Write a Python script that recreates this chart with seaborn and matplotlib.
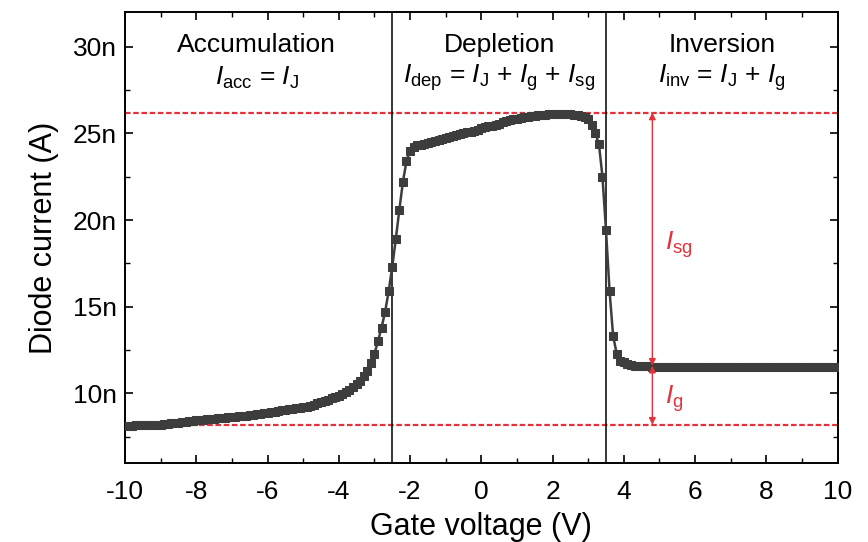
import numpy as np
import pandas as pd
import matplotlib
matplotlib.use('Agg')
import matplotlib.pyplot as plt
import seaborn as sns

# === data: gate sweep -10 V .. 10 V, 0.1 V step ===
gate_voltage = np.round(np.arange(-10.0, 10.05, 0.1), 1)

# diode current in nA
current_acc = [8.15, 8.15, 8.15, 8.16, 8.16, 8.17, 8.17, 8.18, 8.19, 8.20,
               8.21, 8.23, 8.25, 8.27, 8.29, 8.31, 8.34, 8.37, 8.40, 8.43,
               8.45, 8.47, 8.49, 8.51, 8.53, 8.55, 8.57, 8.59, 8.61, 8.63,
               8.65, 8.67, 8.69, 8.71, 8.73, 8.75, 8.78, 8.81, 8.84, 8.87,
               8.90, 8.93, 8.96, 8.99, 9.02, 9.05, 9.08, 9.11, 9.14, 9.17,
               9.20, 9.25, 9.30, 9.36, 9.43, 9.50, 9.57, 9.64, 9.72, 9.80,
               9.88, 9.98, 10.1, 10.22, 10.36, 10.52, 10.72, 10.98, 11.3, 11.75,
               12.3, 13.0, 13.8, 14.7, 15.9, 17.3, 18.9, 20.6, 22.2, 23.4]
current_dep = [24.0, 24.2, 24.3, 24.35, 24.4, 24.45, 24.5, 24.55, 24.6, 24.7,
               24.75, 24.8, 24.85, 24.9, 24.95, 25.0, 25.05, 25.1, 25.15, 25.2,
               25.3, 25.35, 25.4, 25.45, 25.5, 25.55, 25.65, 25.7, 25.75, 25.8,
               25.85, 25.9, 25.93, 25.96, 26.0, 26.02, 26.04, 26.06, 26.08, 26.1,
               26.1, 26.12, 26.13, 26.13, 26.12, 26.1, 26.08, 26.05, 26.0, 25.95,
               25.85, 25.5, 25.0, 24.4, 22.5]
current_inv = [19.4, 15.9, 13.3, 12.3, 11.9, 11.8, 11.7, 11.65, 11.6, 11.6,
               11.58, 11.57, 11.56, 11.55, 11.55, 11.55, 11.55, 11.55, 11.55, 11.55,
               11.55, 11.55, 11.55, 11.55, 11.55, 11.55, 11.55, 11.55, 11.55, 11.55,
               11.55, 11.55, 11.55, 11.55, 11.55, 11.55, 11.55, 11.55, 11.55, 11.55,
               11.55, 11.55, 11.55, 11.55, 11.55, 11.55, 11.55, 11.55, 11.55, 11.55,
               11.55, 11.55, 11.55, 11.55, 11.55, 11.55, 11.55, 11.55, 11.55, 11.55,
               11.55, 11.55, 11.55, 11.55, 11.55, 11.55]

region_bounds = [-2.5, 3.5]
i_dep_level = 26.2
i_inv_level = 11.6
i_j_level = 8.2

df = pd.DataFrame({'V': gate_voltage,
                   'I': current_acc + current_dep + current_inv})

sns.set_style('ticks')
plt.rcParams['font.family'] = ['Liberation Sans', 'DejaVu Sans']
plt.rcParams['mathtext.fontset'] = 'custom'
plt.rcParams['mathtext.rm'] = 'Liberation Sans'
plt.rcParams['mathtext.it'] = 'Liberation Sans:italic'
plt.rcParams['axes.unicode_minus'] = False
plt.rcParams['text.color'] = 'black'
plt.rcParams['axes.labelcolor'] = 'black'
plt.rcParams['xtick.color'] = 'black'
plt.rcParams['ytick.color'] = 'black'
plt.rcParams['axes.edgecolor'] = 'black'

fig = plt.figure(figsize=(8.68, 5.42), dpi=100)
ax = fig.add_axes([0.144, 0.146, 0.821, 0.832])

red = '#e3323c'
gray = '#3d3d3d'

# reference levels
for lvl in [i_dep_level, i_j_level]:
    ax.axhline(lvl, color=red, lw=1.6, ls=(0, (2.5, 1.2)), zorder=1)
for b in region_bounds:
    ax.axvline(b, color='black', lw=1.1, zorder=2)

sns.lineplot(data=df, x='V', y='I', marker='s', markersize=6.2, color=gray,
             markeredgecolor=gray, lw=1.8, ax=ax, zorder=3)

# arrows
arr = dict(arrowstyle='<|-|>', color=red, lw=1.0, mutation_scale=10, shrinkA=0, shrinkB=0)
ax.annotate('', xy=(4.8, i_dep_level), xytext=(4.8, i_inv_level), arrowprops=arr, zorder=4)
ax.annotate('', xy=(4.8, i_inv_level), xytext=(4.8, i_j_level), arrowprops=arr, zorder=4)
ax.text(5.15, 18.6, r'$\mathit{I}_{\mathrm{sg}}$', color=red, fontsize=19, va='center')
ax.text(5.15, 9.7, r'$\mathit{I}_{\mathrm{g}}$', color=red, fontsize=19, va='center')

# region labels
titles = ['Accumulation', 'Depletion', 'Inversion']
formulas = [r'$\mathit{I}_{\mathrm{acc}}$ = $\mathit{I}_{\mathrm{J}}$',
            r'$\mathit{I}_{\mathrm{dep}}$ = $\mathit{I}_{\mathrm{J}}$ + $\mathit{I}_{\mathrm{g}}$ + $\mathit{I}_{\mathrm{sg}}$',
            r'$\mathit{I}_{\mathrm{inv}}$ = $\mathit{I}_{\mathrm{J}}$ + $\mathit{I}_{\mathrm{g}}$']
centers = [-6.3, 0.5, 6.75]
for c, t, f in zip(centers, titles, formulas):
    ax.text(c, 30.1, t, ha='center', va='center', fontsize=19)
    ax.text(c, 28.2, f, ha='center', va='center', fontsize=19)

ax.set_xlim(-10, 10)
ax.set_ylim(6, 32)
ax.set_xticks(np.arange(-10, 11, 2))
ax.set_xticks(np.arange(-10, 11, 1), minor=True)
ax.set_yticks([10, 15, 20, 25, 30])
ax.set_yticklabels(['10n', '15n', '20n', '25n', '30n'])
ax.set_yticks(np.arange(7.5, 32, 2.5), minor=True)
ax.tick_params(which='both', direction='in', top=True, right=True, labelsize=19)
ax.tick_params(which='major', length=6, width=1.2, pad=6)
ax.tick_params(axis='x', which='major', pad=12)
ax.tick_params(which='minor', length=3.5, width=1.0)
for s in ax.spines.values():
    s.set_linewidth(1.4)

ax.set_xlabel('Gate voltage (V)', fontsize=22, labelpad=6)
ax.set_ylabel('Diode current (A)', fontsize=22, labelpad=10)

fig.savefig('out.png', dpi=100)
